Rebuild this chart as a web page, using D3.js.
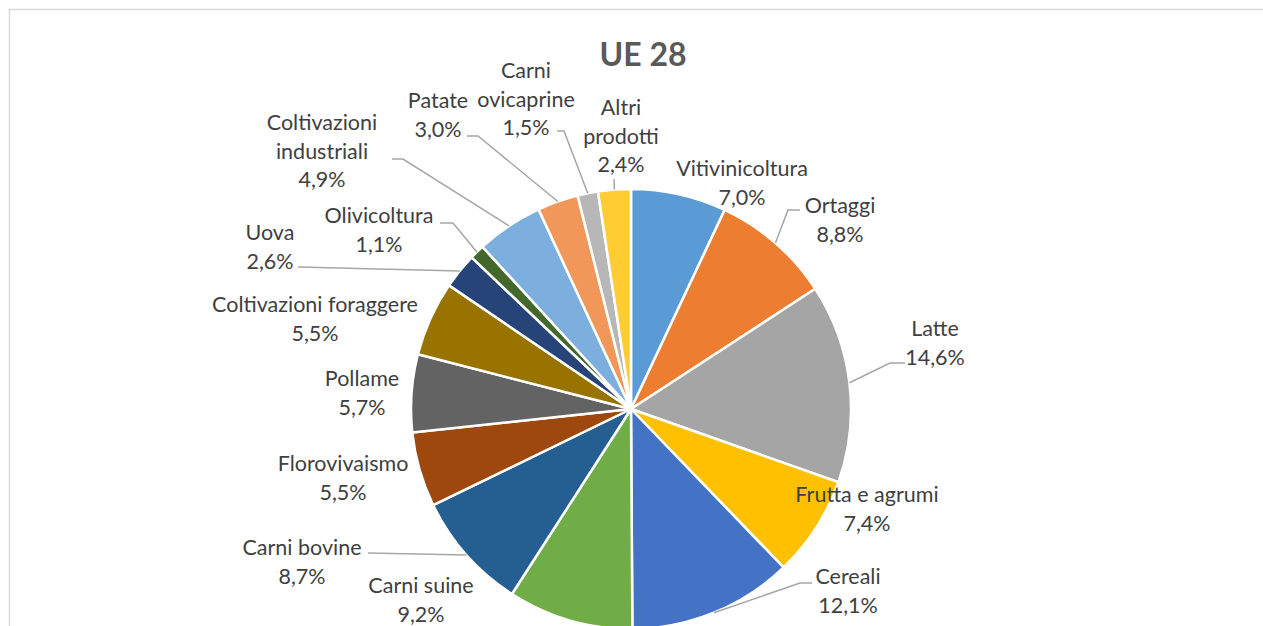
<!DOCTYPE html>
<html>
<head>
<meta charset="utf-8">
<script src="https://cdn.jsdelivr.net/npm/d3@7"></script>
<style>
  body { margin: 0; background: #fff; }
  svg { display: block; }
</style>
</head>
<body>
<svg id="chart"></svg>
<script>
const width = 1263, height = 626;
const cx = 631, cy = 409, radius = 220;

// data
const categories = ['Vitivinicoltura', 'Ortaggi', 'Latte', 'Frutta e agrumi', 'Cereali', 'Carni suine',
  'Carni bovine', 'Florovivaismo', 'Pollame', 'Coltivazioni foraggere', 'Uova', 'Olivicoltura',
  'Coltivazioni industriali', 'Patate', 'Carni ovicaprine', 'Altri prodotti'];
const values = [7.0, 8.8, 14.6, 7.4, 12.1, 9.2, 8.7, 5.5, 5.7, 5.5, 2.6, 1.1, 4.9, 3.0, 1.5, 2.4];
const colors = ['#5b9bd5', '#ed7d31', '#a5a5a5', '#ffc000', '#4472c4', '#70ad47', '#255e91', '#9e480e',
  '#636363', '#997300', '#264478', '#43682b', '#7cafdd', '#f1975a', '#b7b7b7', '#ffcd33'];

// label layout: text lines, centre x, first line y, leader start / elbow
const labelLines = [['Vitivinicoltura'], ['Ortaggi'], ['Latte'], ['Frutta e agrumi'], ['Cereali'], ['Carni suine'],
  ['Carni bovine'], ['Florovivaismo'], ['Pollame'], ['Coltivazioni foraggere'], ['Uova'], ['Olivicoltura'],
  ['Coltivazioni', 'industriali'], ['Patate'], ['Carni', 'ovicaprine'], ['Altri', 'prodotti']];
const labelPos = [[742, 168], [840, 205], [935, 328], [867, 494], [848, 576], [421, 585],
  [302, 547], [343, 463], [362, 378], [315, 304], [270, 232], [379, 215],
  [322, 122], [438, 100], [526, 70], [621, 107]];
const leaders = [null, [[800, 210], [788, 210]], [[905, 363], [890, 363]], null, [[812, 583], [800, 583]], null,
  [[368, 553]], null, null, null, [[298, 267]], [[440, 223], [453, 223]],
  [[392, 159], [403, 159]], [[467, 136], [478, 136]], [[557, 131], [564, 131]], [[614, 179]]];

const fmt = v => d3.format('.1f')(v).replace('.', ',') + '%';

const svg = d3.select('#chart').attr('width', width).attr('height', height);

svg.append('rect')
  .attr('x', 9.5).attr('y', 9.5)
  .attr('width', width).attr('height', height)
  .attr('fill', '#fff').attr('stroke', '#d9d9d9').attr('stroke-width', 1.5);

svg.append('text')
  .attr('x', 643).attr('y', 53)
  .attr('text-anchor', 'middle').attr('dominant-baseline', 'central')
  .attr('font-family', 'Lato, sans-serif').attr('font-weight', 'bold').attr('font-size', 32)
  .attr('fill', '#595959')
  .text('UE 28');

const pie = d3.pie().sort(null).value(d => d)(values);
const arc = d3.arc().innerRadius(0).outerRadius(radius);

const g = svg.append('g').attr('transform', `translate(${cx},${cy})`);
g.selectAll('path')
  .data(pie)
  .enter()
  .append('path')
  .attr('d', arc)
  .attr('fill', (d, i) => colors[i])
  .attr('stroke', '#fff')
  .attr('stroke-width', 2.5)
  .attr('stroke-linejoin', 'round');

// leader lines
const edge = d => {
  const a = (d.startAngle + d.endAngle) / 2;
  return [cx + radius * Math.sin(a), cy - radius * Math.cos(a)];
};
svg.append('g')
  .selectAll('polyline')
  .data(pie.filter((d, i) => leaders[i]))
  .enter()
  .append('polyline')
  .attr('points', d => leaders[d.index].concat([edge(d)]).map(p => p.join(',')).join(' '))
  .attr('fill', 'none')
  .attr('stroke', '#a6a6a6')
  .attr('stroke-width', 1.5);

// labels
const lab = svg.append('g')
  .attr('font-family', 'Lato, sans-serif')
  .attr('font-size', 21.5)
  .attr('fill', '#404040')
  .attr('text-anchor', 'middle');
pie.forEach((d, i) => {
  const lines = labelLines[i].concat([fmt(values[i])]);
  const t = lab.append('text')
    .attr('x', labelPos[i][0]).attr('y', labelPos[i][1])
    .attr('dominant-baseline', 'central');
  lines.forEach((s, k) => {
    t.append('tspan').attr('x', labelPos[i][0]).attr('dy', k === 0 ? 0 : 28.5).text(s);
  });
});
</script>
</body>
</html>
